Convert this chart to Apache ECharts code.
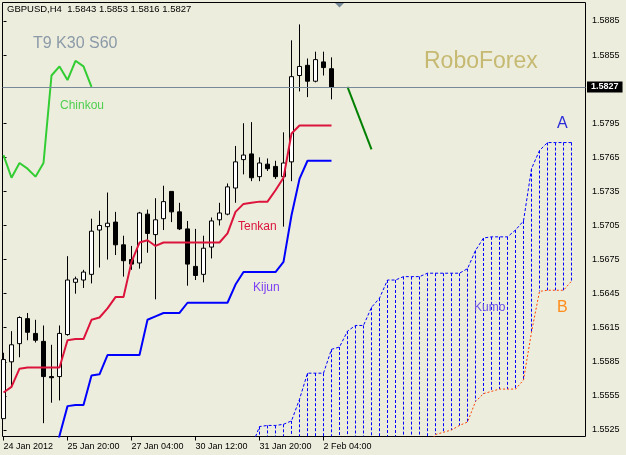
<!DOCTYPE html>
<html>
<head>
<meta charset="utf-8">
<script src="https://cdn.jsdelivr.net/npm/echarts@6/dist/echarts.min.js"></script>
<style>
html,body{margin:0;padding:0;background:#EDEDDD;}
#c{width:626px;height:455px;}
</style>
</head>
<body>
<div id="c"></div>
<script>
// ---- data (H4 bars, index 0 = 24 Jan 2012 12:00) ----
const opens  = [1.5535,1.5585,1.5601,1.5623,1.5610,1.5603,1.5572,1.5572,1.5609,1.5655,1.5657,1.5662,1.5701,1.5704,1.5708,1.5688,1.5675,1.5672,1.5715,1.5697,1.5711,1.5735,1.5717,1.5702,1.5669,1.5662,1.5686,1.5710,1.5715,1.5738,1.5763,1.5768,1.5748,1.5759,1.5757,1.5748,1.5761,1.5837,1.5846,1.5832,1.5849,1.5843];
const closes = [1.5587,1.5600,1.5624,1.5611,1.5604,1.5572,1.5571,1.5610,1.5657,1.5658,1.5664,1.5700,1.5705,1.5707,1.5688,1.5674,1.5671,1.5716,1.5698,1.5710,1.5726,1.5717,1.5702,1.5671,1.5661,1.5685,1.5709,1.5716,1.5739,1.5761,1.5767,1.5747,1.5760,1.5755,1.5748,1.5760,1.5836,1.5845,1.5832,1.5851,1.5844,1.5827];
const lows   = [1.5535,1.5562,1.5589,1.5604,1.5602,1.5531,1.5549,1.5551,1.5608,1.5645,1.5650,1.5654,1.5668,1.5675,1.5679,1.5660,1.5666,1.5667,1.5681,1.5640,1.5701,1.5708,1.5701,1.5652,1.5657,1.5655,1.5676,1.5705,1.5714,1.5725,1.5750,1.5744,1.5744,1.5753,1.5746,1.5704,1.5744,1.5823,1.5818,1.5831,1.5837,1.5816];
const highs  = [1.5593,1.5612,1.5625,1.5628,1.5622,1.5617,1.5600,1.5617,1.5678,1.5660,1.5666,1.5711,1.5718,1.5734,1.5717,1.5696,1.5687,1.5717,1.5719,1.5729,1.5740,1.5735,1.5725,1.5709,1.5702,1.5696,1.5712,1.5725,1.5742,1.5775,1.5795,1.5796,1.5765,1.5764,1.5762,1.5787,1.5868,1.5882,1.5852,1.5858,1.5858,1.5853];

const tenkan = [1.5558,1.5563,1.5579,1.5580,1.5580,1.5580,1.5580,1.5580,1.5604,1.5605,1.5605,1.5622,1.5624,1.5632,1.5642,1.5642,1.5673,1.5690,1.5692,1.5687,1.5690,1.5690,1.5690,1.5690,1.5690,1.5690,1.5690,1.5690,1.5698,1.5717,1.5724,1.5725,1.5726,1.5726,1.5736,1.5747,1.5786,1.5793,1.5793,1.5793,1.5793,1.5793];
const kijun  = [null,null,null,null,null,null,1.5490,1.5520,1.5546,1.5547,1.5547,1.5573,1.5574,1.5591,1.5591,1.5591,1.5591,1.5591,1.5622,1.5625,1.5628,1.5628,1.5628,1.5637,1.5637,1.5637,1.5637,1.5637,1.5637,1.5653,1.5664,1.5664,1.5664,1.5664,1.5664,1.5673,1.5714,1.5746,1.5762,1.5762,1.5762,1.5762];
const chinkou = [1.5767,1.5747,1.5760,1.5755,1.5748,1.5760,1.5837,1.5845,1.5833,1.5850,1.5845,1.5827];

const cloudStart = 30; // first bar of the senkou arrays
const senkouA = [1.5500,1.5510,1.5528,1.5529,1.5529,1.5530,1.5533,1.5552,1.5575,1.5575,1.5575,1.5596,1.5598,1.5612,1.5617,1.5617,1.5633,1.5641,1.5657,1.5657,1.5660,1.5660,1.5660,1.5663,1.5663,1.5663,1.5663,1.5663,1.5667,1.5683,1.5694,1.5695,1.5695,1.5695,1.5701,1.5709,1.5755,1.5771,1.5778,1.5778,1.5778,1.5778];
const senkouB = [1.5495,1.5495,1.5495,1.5495,1.5495,1.5495,1.5495,1.5495,1.5495,1.5495,1.5495,1.5495,1.5495,1.5495,1.5495,1.5495,1.5500,1.5500,1.5500,1.5500,1.5500,1.5505,1.5505,1.5511,1.5521,1.5523,1.5525,1.5529,1.5532,1.5550,1.5557,1.5559,1.5561,1.5561,1.5561,1.5569,1.5611,1.5647,1.5648,1.5648,1.5648,1.5656];

const forecastBars   = [43, 46];
const forecastValues = [1.5827, 1.5772];

const lastPrice = 1.5827;
const xTickBars   = [0, 8, 16, 24, 32, 40];
const xTickLabels = ['24 Jan 2012', '25 Jan 20:00', '27 Jan 04:00', '30 Jan 12:00', '31 Jan 20:00', '2 Feb 04:00'];
const yTicks = [1.5525,1.5555,1.5585,1.5615,1.5645,1.5675,1.5705,1.5735,1.5765,1.5795,1.5855,1.5885];
const headerText = 'GBPUSD,H4  1.5843 1.5853 1.5816 1.5827';

// ---- build ----
const FONT = '"Liberation Sans", Arial, sans-serif';
const xMin = -0.125, xMax = 72.75;
const yMax = 1.590128, yMin = 1.551927;
const KUMO = '#0000FF';

const candleData = opens.map((o, i) => [i, o, closes[i], lows[i], highs[i]]);
const tenkanData = tenkan.map((v, i) => [i, v]);
const kijunData = kijun.map((v, i) => v == null ? null : [i, v]).filter(Boolean);
const chinkouData = chinkou.map((v, i) => [i, v]);
const aData = senkouA.map((v, i) => [cloudStart + i, v]);
const bData = senkouB.map((v, i) => [cloudStart + i, v]);
const cloudData = senkouA.map((v, i) => [cloudStart + i, v, senkouB[i]]);
const forecastData = forecastBars.map((b, i) => [b, forecastValues[i]]);

const chart = echarts.init(document.getElementById('c'));

function txt(text, x, y, size, color) {
  return {type: 'text', x: x, y: y, silent: true, z: 50,
    style: {text: text, fill: color, font: size + 'px ' + FONT, verticalAlign: 'middle'}};
}

chart.setOption({
  backgroundColor: '#EDEDDD',
  animation: false,
  title: {text: headerText, left: 7, top: 4, padding: 0,
    textStyle: {fontSize: 9.5, fontWeight: 'normal', color: '#000', fontFamily: FONT}},
  grid: {left: 2.5, top: 2.5, right: 40.5, bottom: 18.5, show: true, borderColor: '#000', borderWidth: 1, backgroundColor: 'transparent'},
  xAxis: {
    type: 'value', min: xMin, max: xMax,
    splitLine: {show: false},
    axisLine: {show: false},
    axisTick: {show: true, length: 4, customValues: xTickBars, lineStyle: {color: '#000'}},
    axisLabel: {customValues: xTickBars, formatter: v => xTickLabels[xTickBars.indexOf(v)] || '',
      align: 'left', margin: 6, fontSize: 9, color: '#000', fontFamily: FONT}
  },
  yAxis: {
    type: 'value', position: 'right', min: yMin, max: yMax, scale: true,
    splitLine: {show: false},
    axisLine: {show: false},
    axisTick: {show: true, length: 3, customValues: yTicks, lineStyle: {color: '#000'}},
    axisLabel: {customValues: yTicks, formatter: v => v.toFixed(4), margin: 6.5, fontSize: 9, color: '#000', fontFamily: FONT}
  },
  series: [
    {
      type: 'custom', name: 'Kumo', data: cloudData, encode: {x: 0, y: [1, 2]}, clip: true, z: 1, silent: true,
      itemStyle: {color: KUMO, borderColor: KUMO},
      renderItem: function (params, api) {
        const x = api.value(0), a = api.value(1), b = api.value(2);
        const p1 = api.coord([x, a]), p2 = api.coord([x, b]);
        const bottom = api.coord([x, yMin])[1];
        if (p1[1] >= bottom) return null;
        const px = Math.round(p1[0] - 0.5) + 0.5;
        return {type: 'line', shape: {x1: px, y1: p1[1], x2: px, y2: Math.min(p2[1], bottom)},
          style: {stroke: KUMO, fill: null, lineWidth: 1, lineDash: [3, 2], opacity: 1}};
      }
    },
    {type: 'line', name: 'Senkou A', data: aData, symbol: 'none', z: 2, silent: true,
      lineStyle: {color: KUMO, width: 1, type: [3, 2]}},
    {type: 'line', name: 'Senkou B', data: bData, symbol: 'none', z: 2, silent: true,
      lineStyle: {color: '#FF4500', width: 1, type: [2, 2]},
      markLine: {
        silent: true, symbol: 'none', animation: false, precision: 4,
        lineStyle: {color: '#778899', type: 'solid', width: 1},
        label: {show: true, position: 'end', distance: 1.5, formatter: () => lastPrice.toFixed(4),
          color: '#FFFFFF', backgroundColor: '#000000', fontSize: 9, fontWeight: 'bold', fontFamily: FONT,
          lineHeight: 10, padding: [1, 4, 0, 4]},
        data: [{yAxis: lastPrice}]
      }
    },
    {
      type: 'candlestick', name: 'GBPUSD', data: candleData, barWidth: 4, z: 3, silent: true,
      itemStyle: {color: '#FFFFFF', color0: '#000000', borderColor: '#000000', borderColor0: '#000000', borderWidth: 1}
    },
    {type: 'line', name: 'Tenkan', data: tenkanData, symbol: 'none', z: 4, silent: true,
      lineStyle: {color: '#DC143C', width: 2}},
    {type: 'line', name: 'Kijun', data: kijunData, symbol: 'none', z: 4, silent: true,
      lineStyle: {color: '#0000FF', width: 2}},
    {type: 'line', name: 'Chinkou', data: chinkouData, symbol: 'none', z: 4, silent: true,
      lineStyle: {color: '#32CD32', width: 2}},
    {type: 'line', name: 'Forecast', data: forecastData, symbol: 'none', z: 4, silent: true,
      lineStyle: {color: '#008000', width: 2}}
  ],
  graphic: [
    {type: 'polygon', silent: true, z: 50, shape: {points: [[335, 3], [344, 3], [339.5, 7.5]]}, style: {fill: '#778899'}},
    txt('T9 K30 S60', 33, 44, 16, '#8B9AA8'),
    txt('RoboForex', 424, 62, 23, '#C6B972'),
    txt('Chinkou', 60, 106, 12, '#4FCF4F'),
    txt('Tenkan', 238, 227, 12, '#DC143C'),
    txt('Kijun', 253, 288, 12, '#7B3FF2'),
    txt('Kumo', 474, 308, 12, '#6A50E6'),
    txt('A', 557, 124, 16, '#2B2BD9'),
    txt('B', 557, 308, 16, '#FF8C1A')
  ]
});
</script>
</body>
</html>
